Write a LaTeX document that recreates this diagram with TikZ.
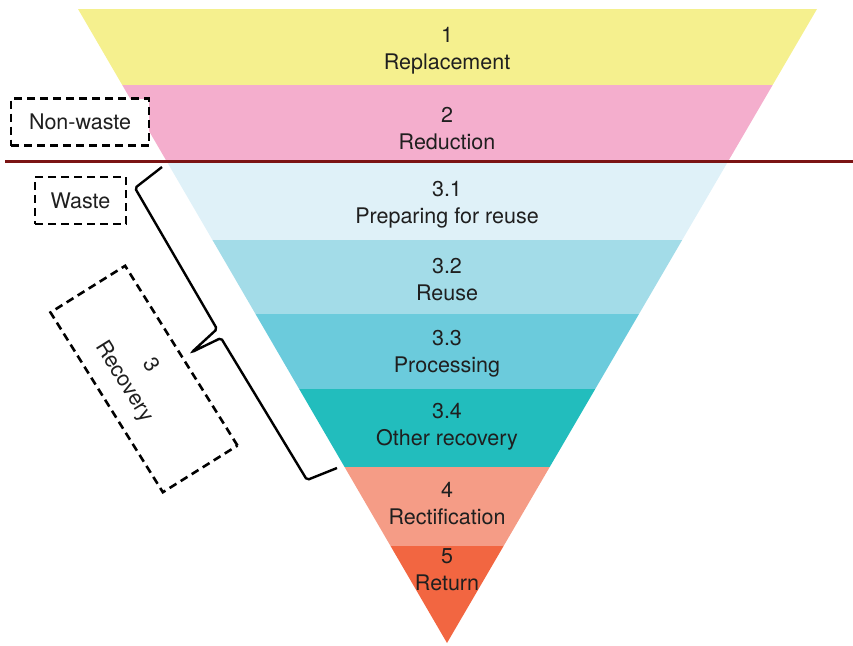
\documentclass[tikz,border=0pt]{standalone}
\usepackage{fontspec}
\setmainfont{TeX Gyre Heros}
\usepackage{tikz}
\usetikzlibrary{calc}
\definecolor{lvlA}{HTML}{F5F08E}
\definecolor{lvlB}{HTML}{F4AECD}
\definecolor{lvlC}{HTML}{DFF1F8}
\definecolor{lvlD}{HTML}{A3DCE8}
\definecolor{lvlE}{HTML}{6BCBDC}
\definecolor{lvlF}{HTML}{22BDBD}
\definecolor{lvlG}{HTML}{F59C86}
\definecolor{lvlH}{HTML}{F26641}
\definecolor{cutline}{HTML}{7B1414}
\tikzset{
  lvl/.style={align=center, font=\fontsize{21.5}{27}\selectfont, text=black!88, inner sep=0pt},
  tagbox/.style={draw=black, fill=white, line width=2.6pt, dash pattern=on 8pt off 5pt,
                 font=\fontsize{21.5}{30}\selectfont, text=black!88, align=center, inner sep=0pt},
  brace/.style={line width=2.4pt, rounded corners=2pt, black},
  divider/.style={line width=3pt, cutline},
}
\begin{document}
\begin{tikzpicture}[x=1pt,y=-1pt]
\useasboundingbox (0,0) rectangle (853,645);
\begin{scope}
\clip (78,9) -- (817,9) -- (447,643) -- cycle;
\foreach \ya/\yb/\col in {9/85/lvlA, 85/161/lvlB, 161/240/lvlC, 240/314/lvlD,
                         314/389/lvlE, 389/467/lvlF, 467/546/lvlG, 546/645/lvlH}
  \fill[\col] (0,\ya) rectangle (853,\yb);
\end{scope}
\foreach \n/\y/\t in {1/51/{1\\Replacement}, 2/129/{2\\Reduction},
                     31/205/{3.1\\Preparing for reuse}, 32/280/{3.2\\Reuse},
                     33/354/{3.3\\Processing}, 34/427/{3.4\\Other recovery},
                     4/504/{4\\Rectification}, 5/570/{5\\Return}}
  \node[lvl] (lvl\n) at (447,\y) {\t};
\draw[divider] (5,161) -- (853,161);
\node[tagbox, minimum width=138pt, minimum height=47pt] (nonwaste) at (80,122) {Non-waste};
\node[tagbox, minimum width=91pt, minimum height=47pt] (waste) at (80.5,200.5) {Waste};
\node[tagbox, minimum width=212pt, minimum height=88pt, rotate=-58] (recbox) at (144,379) {};
\node[lvl, font=\fontsize{21.5}{31}\selectfont, rotate=-58] (rectxt) at (137,374) {3\\Recovery};
\draw[brace] (162,167) -- (135,188) -- (217,329) -- (192,352) -- (221,338) -- (307,480) -- (337,468);
\end{tikzpicture}
\end{document}
